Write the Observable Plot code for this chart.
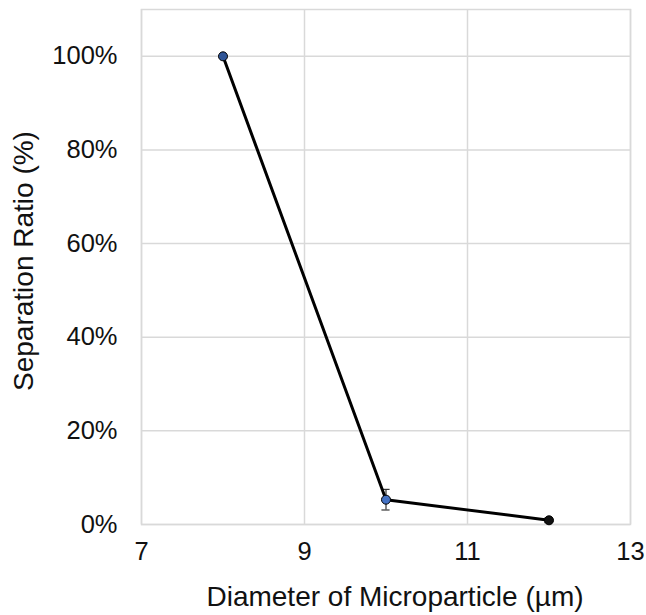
<!DOCTYPE html>
<html>
<head>
<meta charset="utf-8">
<script src="https://cdn.jsdelivr.net/npm/d3@7"></script>
<script src="https://cdn.jsdelivr.net/npm/@observablehq/plot@0.6"></script>
<style>
  html, body { margin: 0; padding: 0; background: #fff; }
  svg { font-family: "Liberation Sans", Arial, sans-serif; }
</style>
</head>
<body>
<div id="chart"></div>
<script>
const diameters = [8, 10, 12];
const ratios = [1.0, 0.053, 0.009];
const errors = [0.0, 0.022, 0.005];
const pointFills = ["#2f5597", "#4472c4", "#111111"];
const xTicks = [7, 9, 11, 13];
const yTicks = [0, 0.2, 0.4, 0.6, 0.8, 1.0];
const xTitle = "Diameter of Microparticle (µm)";
const yTitle = "Separation Ratio (%)";

const data = diameters.map((d, i) => ({x: d, y: ratios[i], e: errors[i], fill: pointFills[i]}));
const errData = data.filter(d => d.e > 0);

const chart = Plot.plot({
  width: 646,
  height: 615,
  marginLeft: 141,
  marginRight: 16,
  marginTop: 9,
  marginBottom: 91,
  style: {fontFamily: '"Liberation Sans", Arial, sans-serif', background: "#fff"},
  x: {domain: [7, 13]},
  y: {domain: [0, 1.1]},
  marks: [
    Plot.gridX(xTicks, {stroke: "#d9d9d9", strokeOpacity: 1, strokeWidth: 1.5}),
    Plot.gridY(yTicks, {stroke: "#d9d9d9", strokeOpacity: 1, strokeWidth: 1.5}),
    Plot.frame({stroke: "#d9d9d9", strokeWidth: 1.5}),
    Plot.axisX(xTicks, {tickSize: 0, tickPadding: 17, fontSize: 25.5, label: null, fill: "#111"}),
    Plot.axisY(yTicks, {tickSize: 0, tickPadding: 24, fontSize: 25.5, label: null, tickFormat: d3.format(".0%"), fill: "#111"}),
    Plot.text([xTitle], {frameAnchor: "bottom", dx: 9, dy: 81, fontSize: 28, fill: "#111"}),
    Plot.text([yTitle], {frameAnchor: "left", textAnchor: "middle", dx: -117, dy: -6, rotate: -90, fontSize: 28, fill: "#111"}),
    Plot.ruleX(errData, {x: "x", y1: d => d.y - d.e, y2: d => d.y + d.e, stroke: "#333", strokeWidth: 1.2}),
    Plot.ruleY(errData, {y: d => d.y - d.e, x1: d => d.x - 0.05, x2: d => d.x + 0.05, stroke: "#333", strokeWidth: 1.2}),
    Plot.ruleY(errData, {y: d => d.y + d.e, x1: d => d.x - 0.05, x2: d => d.x + 0.05, stroke: "#333", strokeWidth: 1.2}),
    Plot.line(data, {x: "x", y: "y", stroke: "#000", strokeWidth: 3}),
    Plot.dot(data, {x: "x", y: "y", r: 4.5, fill: "fill", stroke: "#000", strokeWidth: 1})
  ]
});
document.getElementById("chart").appendChild(chart);
</script>
</body>
</html>
